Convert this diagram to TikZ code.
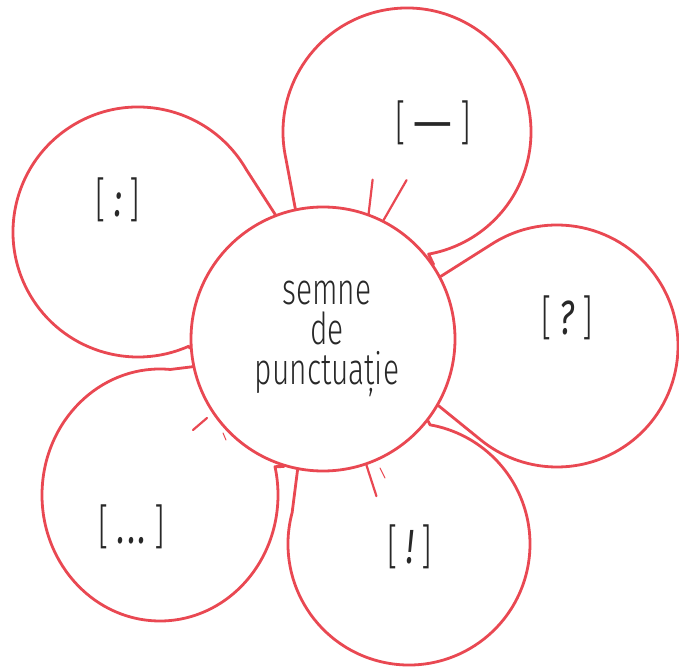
\documentclass[tikz,border=0pt]{standalone}
\usepackage{fontspec}
\setmainfont{Fira Sans}[UprightFont=* Light, BoldFont=*, ItalicFont=* Light Italic, BoldItalicFont=* Italic, FakeStretch=0.68]
\usetikzlibrary{positioning, calc, backgrounds}
\definecolor{petalred}{RGB}{233,72,82}
\definecolor{inkgray}{RGB}{40,40,40}

\begin{document}
\begin{tikzpicture}[x=1pt, y=1pt,
    petal/.style={draw=petalred, line width=2.8pt, line cap=round, line join=round},
    sepal/.style={draw=petalred, line width=2.2pt, line cap=round},
    sign/.style={text=inkgray, font=\fontsize{48}{48}\selectfont}]
    \useasboundingbox (0,0) rectangle (679,667);
    \node[circle, petal, fill=white, minimum size=264pt, inner sep=0pt, align=center,
        text=inkgray, font=\fontsize{44}{40}\selectfont] (hub) at (323,328) {\hspace*{8pt}semne\\\hspace*{8pt}de\\\hspace*{8pt}punctuație};
    \coordinate (pcolon) at (138,435);
    \coordinate (pdash) at (407,535);
    \coordinate (pquery) at (557,321);
    \coordinate (pbang) at (409,123);
    \coordinate (pdots) at (160,172);
    \begin{scope}[on background layer]
        \draw[petal] (hub.111) -- ($(pcolon)+(30:125)$) arc[start angle=30, end angle=294, radius=125] -- (hub.184);
        \draw[petal] (hub.102) -- ($(pdash)+(192:124)$) arc[start angle=192, end angle=-80, radius=124] -- (hub.34);
        \draw[petal] (hub.28) -- ($(pquery)+(123:121)$) arc[start angle=123, end angle=-129, radius=121] -- (hub.330);
        \draw[petal] (hub.259) -- ($(pbang)+(165:121)$) arc[start angle=165, end angle=440, radius=121] -- (hub.322);
        \draw[petal] (hub.192) -- ($(pdots)+({118*cos(85)},{126*sin(85)})$) arc[start angle=85, end angle=373, x radius=118, y radius=126] -- (hub.253);
    \end{scope}
    \draw[sepal] (hub.70) -- ++(4,34);
    \draw[sepal] (hub.63) -- ++(23,40);
    \draw[sepal] (hub.289) -- ++(10,-31);
    \draw[sepal] (207,249) -- (193,237);
    \draw[sepal, line width=1pt] (380,199) -- (385,189);
    \draw[sepal, line width=1pt] (223,234) -- (226,227);
    \node[sign] (colon) at (118,467) {[\,{\bfseries\itshape :}\,]};
    \node[sign] (dash) at (433,544) {[\,{\bfseries\scalebox{1.5}[1]{—}}\,]};
    \node[sign] (query) at (567,349) {[\,{\bfseries\itshape ?}\,]};
    \node[sign] (dots) at (132,140) {[\,{\bfseries\itshape .\kern3pt.\kern3pt.}\,]};
    \node[sign] (bang) at (410,120) {[\,{\bfseries\itshape !}\,]};
\end{tikzpicture}
\end{document}
